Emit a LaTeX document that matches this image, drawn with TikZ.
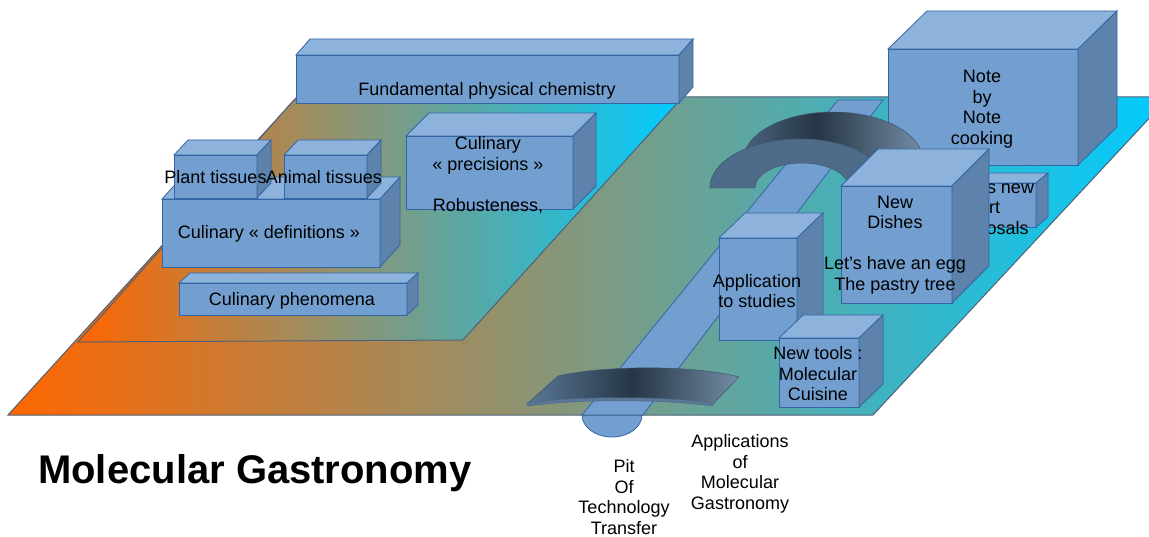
\documentclass[tikz,border=0pt]{standalone}
\usepackage{fontspec}
\setmainfont{Liberation Sans}
\usepackage{xcolor}
\usepackage{tikz}

\definecolor{azulFrente}{HTML}{729FCF}
\definecolor{azulTapa}{HTML}{8DB3DD}
\definecolor{azulLado}{HTML}{5D82AB}
\definecolor{azulBorde}{HTML}{3465A4}
\definecolor{bordePlaca}{HTML}{4D6178}
\definecolor{naranja}{HTML}{FF6600}
\definecolor{celeste}{HTML}{00CCFF}
\definecolor{pizarra}{HTML}{4E6B89}
\definecolor{pizarraOsc}{HTML}{263646}
\definecolor{pizarraCla}{HTML}{5A7896}

\tikzset{
  frente/.style={fill=azulFrente, draw=azulBorde, line width=0.8pt},
  tapa/.style={fill=azulTapa, draw=azulBorde, line width=0.8pt},
  lado/.style={fill=azulLado, draw=azulBorde, line width=0.8pt},
  viga/.style={fill=azulFrente, draw=azulBorde, line width=0.8pt},
  placa/.style={left color=naranja, right color=celeste, draw=bordePlaca, line width=1pt},
  puente/.style={left color=pizarraCla, right color=pizarraCla!85!white, middle color=pizarraOsc,
    draw=pizarra!80!black, line width=0.5pt},
  etiqueta/.style={align=center, font=\fontsize{18}{20.5}\selectfont}
}

% caja en perspectiva: x, y, ancho, alto, fondo x, fondo y
\newcommand{\bloque}[6]{%
  \draw[frente] (#1,#2) rectangle ++(#3,#4);
  \draw[tapa] (#1,#2) -- ++(#5,-#6) -- ++(#3,0) -- ++(-#5,#6) -- cycle;
  \draw[lado] (#1+#3,#2) -- ++(#5,-#6) -- ++(0,#4) -- ++(-#5,#6) -- cycle;
}

\begin{document}
\begin{tikzpicture}[x=1pt, y=-1pt]
\useasboundingbox (0,0) rectangle (1149,537);
\clip (0,0) rectangle (1149,537);

% Placas
\draw[viga] (642,415) arc[start angle=0, end angle=180, x radius=30, y radius=22] -- cycle;
\shadedraw[placa] (8,415) -- (873,415) -- (1169,97) -- (297,97) -- cycle;
\shadedraw[placa] (78,342) -- (463,340) -- (680,100) -- (294,100) -- cycle;

% Bloques de la izquierda
\bloque{296}{55}{383}{48}{14}{16}
\node[etiqueta] (fisica) at (487,91) {Fundamental physical chemistry};

\bloque{406}{136}{167}{73}{23}{23}
\node[etiqueta] (precisiones) at (488,175) {Culinary\\« precisions »\\\mbox{}\\Robusteness,};

\bloque{162}{199}{218}{68}{20}{22}
\node[etiqueta] (definiciones) at (269,234) {Culinary « definitions »};

\bloque{174}{155}{83}{43}{14}{15}
\node[etiqueta] (vegetal) at (215.5,177) {Plant tissues};
\bloque{284}{155}{83}{43}{14}{15}
\node[etiqueta] (animal) at (324,177) {Animal tissues};

\bloque{179}{283}{228}{32}{11}{10}
\node[etiqueta] (fenomenos) at (292,301) {Culinary phenomena};

% Viga de transferencia
\draw[viga] (838,100) -- (883,100) -- (643,415) -- (582,415) -- cycle;

% Puente bajo
\shadedraw[puente] (527,404) -- (558,376) .. controls (600,366) and (690,364) .. (739,377)
  -- (713,404) .. controls (660,397) and (580,397) .. (527,404) -- cycle;
\draw[fill=pizarraCla, draw=pizarra, line width=0.5pt] (527,403) .. controls (580,396) and (660,396) .. (713,403)
  -- (713,406) .. controls (660,399) and (580,399) .. (527,406) -- cycle;

% Bloques de la derecha
\bloque{888}{49}{190}{116}{39}{38}
\node[etiqueta] (nota) at (982,109) {Note\\by\\Note\\cooking};

% Puente alto
\shadedraw[puente] (710,188) -- (743,161) arc[start angle=180, end angle=360, x radius=90, y radius=49]
  -- (890,188) arc[start angle=360, end angle=180, x radius=90, y radius=49] -- cycle;
\draw[fill=pizarra, draw=pizarra!80!black, line width=0.5pt] (710,188)
  arc[start angle=180, end angle=360, x radius=90, y radius=49]
  -- (849,188) arc[start angle=360, end angle=180, x radius=47, y radius=25] -- cycle;

\bloque{955}{183}{81}{44}{12}{10}
\node[etiqueta] (propuestas) at (989.5,209) {Chef's new\\art\\proposals};

\bloque{719}{238}{78}{102}{26}{25}
\node[etiqueta] (aplicacion) at (757,291) {Application\\to studies};

\bloque{841}{186}{111}{117}{37}{37}
\node[etiqueta] (platos) at (895,245) {New\\Dishes\\\mbox{}\\Let's have an egg\\The pastry tree};

\bloque{779}{338}{80}{69}{24}{23}
\node[etiqueta] (herramientas) at (818,374) {New tools :\\Molecular\\Cuisine};

% Textos de abajo
\node[etiqueta] (pozo) at (624,497) {Pit\\Of\\Technology\\Transfer};
\node[etiqueta] (aplicaciones) at (740,474) {Applications\\of\\Molecular\\Gastronomy};
\node[font=\bfseries\fontsize{40}{48}\selectfont, anchor=base west, inner sep=0pt] (titulo) at (38,483) {Molecular Gastronomy};

\end{tikzpicture}
\end{document}
